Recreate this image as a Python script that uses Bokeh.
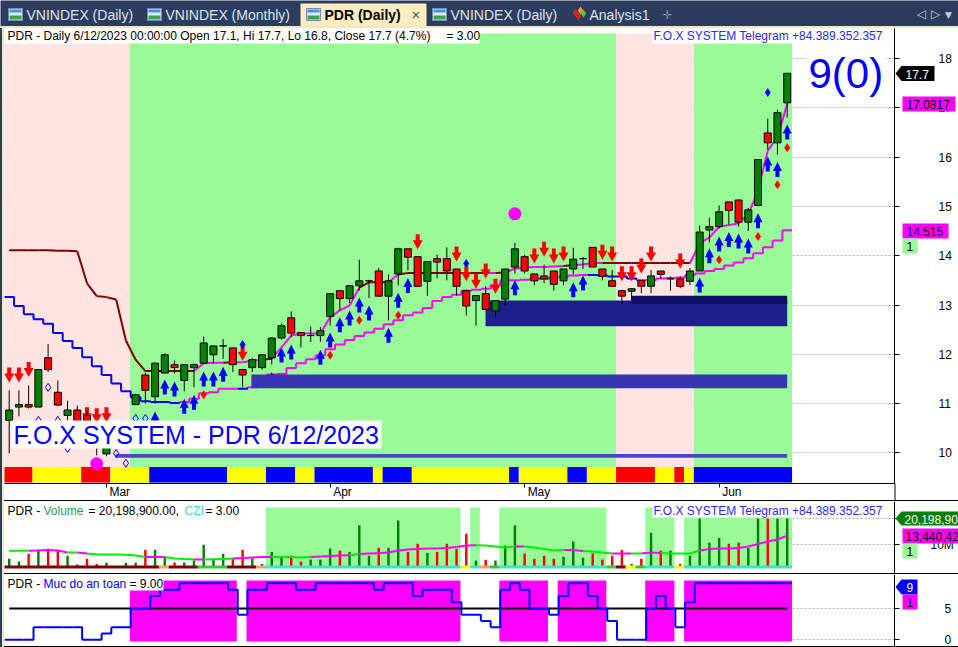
from bokeh.plotting import figure
from bokeh.layouts import column, row
from bokeh.models import (Label, PolyAnnotation, FixedTicker, Range1d, Spacer)
from bokeh.core.properties import value
from bokeh.embed import file_html
from bokeh.resources import INLINE

# ---------- data ----------
opens = [10.66,10.93,10.98,10.93,11.93,11.23,10.76,10.87,10.76,10.35,9.98,10.15,10.35,10.98,11.58,11.14,11.62,11.79,11.47,11.73,11.82,11.99,12.17,12.13,11.69,11.73,11.73,11.93,12.33,12.74,12.44,12.38,12.38,12.77,13.29,13.13,13.39,13.49,13.69,13.18,13.63,14.14,13.98,13.48,13.94,13.94,13.73,13.29,13.09,13.23,12.88,13.12,13.77,13.98,13.63,13.59,13.69,13.49,13.73,13.94,14.17,13.73,13.49,13.29,13.28,13.50,13.38,13.69,13.53,13.53,13.48,13.69,14.52,14.59,15.09,15.13,14.68,15.02,16.49,16.29,17.1]
closes = [10.87,10.98,10.93,11.69,11.69,10.97,10.87,10.56,10.35,10.20,10.12,10.40,10.60,11.18,11.27,11.82,11.99,11.73,11.79,11.79,12.23,12.17,12.17,11.79,11.58,11.89,11.99,12.33,12.58,12.43,12.38,12.38,12.48,13.23,13.13,13.39,13.49,13.49,13.18,13.49,14.14,13.97,13.38,13.88,13.87,13.69,13.38,12.98,13.19,12.91,13.09,13.73,14.14,13.69,13.49,13.53,13.42,13.73,13.93,13.94,13.77,13.58,13.38,13.18,13.33,13.38,13.59,13.62,13.53,13.38,13.69,14.48,14.59,14.89,14.92,14.68,14.93,15.95,16.29,16.90,17.7]
highs = [11.27,11.27,11.37,11.69,12.21,11.47,11.06,10.96,10.85,10.45,10.30,10.50,10.65,11.20,11.63,11.84,12.02,11.87,11.79,11.81,12.36,12.17,12.31,12.13,11.69,11.92,11.99,12.35,12.62,12.87,12.44,12.56,12.55,13.23,13.29,13.41,13.92,13.51,13.75,13.62,14.16,14.14,13.98,13.88,14.02,14.17,13.73,13.31,13.19,13.38,13.09,13.73,14.26,14.02,13.63,13.82,13.69,13.73,14.16,13.97,14.17,13.73,13.71,13.31,13.33,13.50,13.71,13.69,13.58,13.58,13.75,14.61,14.77,15.02,15.09,15.13,14.97,15.95,16.78,16.96,17.7]
lows = [9.99,10.74,10.90,10.93,11.64,10.95,10.66,10.49,10.30,9.95,9.93,10.10,10.30,10.97,11.00,11.00,11.61,11.61,11.25,11.33,11.81,11.81,11.91,11.64,11.33,11.64,11.69,11.79,12.30,12.35,12.14,12.25,12.25,12.58,12.89,13.04,13.29,13.14,13.17,12.69,13.40,13.70,13.38,13.19,13.54,13.50,13.19,12.79,12.58,12.91,12.75,12.99,13.64,13.64,13.40,13.44,13.29,13.40,13.62,13.73,13.77,13.50,13.38,13.04,13.09,13.24,13.24,13.53,13.29,13.34,13.40,13.69,14.27,14.55,14.63,14.59,14.50,15.00,16.15,16.05,16.8]
upper_line = [14.11,14.11,14.11,14.11,14.11,14.10,14.10,14.09,13.44,13.18,13.16,13.11,12.28,11.89,11.66,11.66,11.66,11.66,11.66,11.66,11.82,11.83,11.83,11.84,11.84,11.87,11.89,11.91,12.14,12.38,12.42,12.42,12.42,12.75,12.89,12.99,13.35,13.46,13.46,13.46,13.62,13.65,13.65,13.65,13.65,13.65,13.65,13.65,13.65,13.65,13.65,13.66,13.74,13.76,13.77,13.77,13.78,13.79,13.81,13.82,13.85,13.85,13.85,13.85,13.85,13.85,13.85,13.85,13.85,13.85,13.85,14.25,14.37,14.59,14.62,14.66,14.84,15.32,16.13,16.40,17.08]
lower_line = [13.16,12.98,12.81,12.71,12.62,12.43,12.27,12.13,11.94,11.76,11.58,11.41,11.25,11.13,11.05,11.03,11.03,11.01,11.03,11.10,11.21,11.23,11.30,11.30,11.30,11.33,11.47,11.59,11.60,11.72,11.82,11.90,11.98,12.10,12.20,12.29,12.37,12.44,12.52,12.61,12.69,12.79,12.85,12.94,13.08,13.16,13.21,13.29,13.31,13.33,13.40,13.50,13.50,13.51,13.53,13.54,13.56,13.58,13.60,13.61,13.61,13.60,13.58,13.58,13.54,13.50,13.50,13.54,13.55,13.56,13.61,13.64,13.69,13.73,13.80,13.86,13.95,14.05,14.17,14.31,14.515]
up_arrow_bars = [15,16,17,18,19,20,21,22,27,28,29,32,33,34,35,36,37,39,40,41,52,58,59,71,72,73,74,75,76,77,78,79,80]
up_arrow_tips = [10.84,11.49,11.45,11.10,11.18,11.65,11.65,11.75,11.64,12.14,12.20,12.09,12.44,12.75,12.89,13.15,12.99,12.54,13.25,13.55,13.50,13.46,13.60,13.56,14.15,14.39,14.48,14.45,14.35,14.86,16.01,15.90,16.66]
down_arrow_bars = [0,1,2,8,9,10,24,42,46,47,48,49,50,54,55,56,57,61,62,63,64,65,66,69]
down_arrow_tips = [11.43,11.43,11.54,10.62,10.60,10.62,11.87,14.13,13.88,13.48,13.33,13.54,13.23,13.84,13.98,13.84,13.88,13.92,13.88,13.48,13.48,13.64,13.88,13.74]
red_dot_bars = [20,33,36,40,73,77,79,80]
red_dot_vals = [11.18,11.98,12.69,12.79,13.92,14.39,15.44,16.19]
blue_dot_bars = [24,47,78]
blue_dot_vals = [12.20,13.84,17.31]
hollow_bars = [3,4,5,6,11,12,13,14]
hollow_vals = [10.66,11.33,10.66,10.09,9.99,9.79,10.70,10.70]
circle_bars = [9,52]
circle_vals = [9.78,14.85]
box_left = [10.94,24.9,48.98,64.0]
box_right = [80,80,80,80]
box_top = [9.98,11.59,13.09,13.19]
box_bottom = [9.90,11.31,12.57,13.02]
box_colors = ["#4a46c4","#3835b0","#1f1f8c","#0d0d66"]
month_bars = [10,33,53,73]
month_names = ["Mar","Apr","May","Jun"]
price_ticks = [10,11,12,13,14,15,16,17,18]

volumes = [4.4,3.3,6.4,7.9,8.3,7.9,5.6,2.2,4.4,2.4,2.8,1.4,2.8,2.8,7.9,7.9,5.0,2.9,2.9,3.7,9.9,4.4,6.4,4.4,7.9,4.6,2.4,7.1,5.4,5.6,3.3,4.1,4.1,8.4,7.6,7.1,17.5,5.6,8.7,8.7,19.4,7.1,10.3,6.7,7.1,10.3,8.3,14.2,3.7,4.0,3.7,9.6,17.5,6.4,4.4,5.6,4.4,5.2,11.2,4.8,6.5,4.1,5.6,7.9,2.4,4.4,14.6,7.6,7.6,2.4,5.6,20.2,10.7,12.6,10.3,10.7,8.7,20.2,20.2,20.2,20.2]
vol_avg = [7.53,7.53,7.53,7.65,7.84,7.65,6.86,6.86,6.47,6.08,6.08,6.08,6.0,5.69,5.10,5.10,5.10,4.51,4.31,4.12,4.12,4.24,4.31,4.51,4.71,4.90,5.10,5.10,5.10,5.10,4.90,5.10,5.29,5.49,5.69,5.80,6.27,6.47,6.59,6.86,7.65,8.04,8.24,8.43,8.43,8.63,9.02,9.61,9.73,9.61,9.22,8.82,9.22,9.22,8.82,8.24,7.65,7.84,7.84,7.45,7.25,6.86,6.47,6.47,6.47,6.47,6.86,6.67,6.47,6.47,6.47,7.65,8.24,8.43,8.43,8.63,9.22,10.2,11.2,11.96,13.44]
safety = [0,0,0,2,2,2,2,2,0,0,1,2,2,5,5,7,8,8,9,9,9,9,9,8,4,8,8,9,9,9,8,8,9,9,9,9,9,9,8,9,9,9,7,8,8,8,6,4,4,3,2,8,9,8,5,5,4,7,9,9,7,5,3,0,0,0,5,7,5,2,6,9,9,9,9,9,9,9,9,9,9]
safety_mid = 5

# value tags in the right-hand scale strip
arrow_tag_text = ["17.7", "20,198,900", "9"]
box_tag_text = ["17.0817", "14.515", "1", "13,440,420", "1", "1"]

def runs(*pairs):
    out = []
    for c, n in pairs:
        out += [c] * n
    return out

RED, YEL, BLU = "#ff0000", "#ffff00", "#0000ff"
PINK, LGREEN = "#ffe4e1", "#98fb98"
DRED, MAG = "#800000", "#ff00ff"
GRN, LIME = "#008000", "#00ee00"
TURQ, ORG, MID = "#40e0d0", "#f4a460", "#32cd32"

zone_colors = runs((PINK,13),(LGREEN,50),(PINK,8),(LGREEN,10))
ribbon_colors = runs((RED,3),(YEL,5),(RED,3),(YEL,4),(BLU,8),(YEL,4),(BLU,3),(YEL,2),(BLU,6),(YEL,1),(BLU,3),(YEL,10),(BLU,1),(YEL,5),(BLU,2),(YEL,3),(RED,4),(YEL,2),(RED,1),(YEL,1),(BLU,10))
upper_colors = runs((DRED,19),(MAG,3),(DRED,1),(MAG,3),(DRED,1),(MAG,9),(DRED,3),(MAG,1),(DRED,9),(MAG,1),(DRED,1),(MAG,6),(DRED,1),(MAG,3),(DRED,9),(MAG,11))
lower_colors = runs((BLU,18),(MAG,6),(BLU,1),(MAG,30),(BLU,1),(MAG,4),(BLU,5),(MAG,16))
avg_colors = runs((LIME,2),(MAG,4),(LIME,1),(MAG,1),(LIME,6),(MAG,2),(LIME,3),(MAG,1),(LIME,3),(MAG,4),(LIME,4),(MAG,4),(LIME,1),(MAG,12),(LIME,4),(MAG,1),(LIME,4),(MAG,2),(LIME,3),(MAG,2),(LIME,1),(MAG,2),(LIME,4),(MAG,10))
vol_zone = runs(("w",27),(LGREEN,20),("w",1),(LGREEN,1),("w",2),(LGREEN,11),("w",4),(LGREEN,3),("w",1),(LGREEN,11))
vol_ribbon = runs((DRED,16),(ORG,1),(DRED,3),(MID,3),(DRED,3),(ORG,1),(TURQ,20),(YEL,1),(TURQ,1),(ORG,1),(MID,1),(TURQ,11),(MID,1),(DRED,1),(YEL,1),(MID,1),(TURQ,3),(YEL,1),(TURQ,11))
safety_zone = runs(("w",13),(MAG,11),("w",1),(MAG,22),("w",4),(MAG,5),("w",1),(MAG,5),("w",4),(MAG,3),("w",1),(MAG,11))

n = len(closes)
bars = list(range(n))
for name, arr in dict(o=opens,h=highs,l=lows,u=upper_line,lo=lower_line,v=volumes,a=vol_avg,s=safety,z=zone_colors,r=ribbon_colors,vz=vol_zone,vr=vol_ribbon,sz=safety_zone,lc=lower_colors).items():
    assert len(arr) == n, (name, len(arr))

# ---------- pixel helpers for chrome / labels ----------
FONT = "Liberation Sans"
def X(px): return (px - 8.7) / 9.725
def BX(i): return 8.7 + 9.725 * i
def P(py): return 18 - (py - 58) / 49.3
def V(py): return (569.5 - py) / 2.55
def S(py): return (639.3 - py) / 6.27

WIDTH = 954
FRAME_L, FRAME_R = 4, 894

def make(height, ytop, ybot, conv, ticks, standoff, xaxis=False, bottom=0):
    p = figure(width=WIDTH, height=height, output_backend="svg", toolbar_location=None,
               x_range=Range1d(X(FRAME_L), X(FRAME_R)), y_range=Range1d(conv(ybot), conv(ytop)),
               y_axis_location="right", x_axis_location="below" if xaxis else None,
               min_border_left=0, min_border_right=958 - FRAME_R, min_border_top=0, min_border_bottom=bottom,
               background_fill_color="white", border_fill_color="white", outline_line_color=None)
    ax = p.yaxis[0]
    ax.ticker = FixedTicker(ticks=ticks)
    ax.major_tick_in = 0
    ax.major_tick_out = 5
    ax.minor_tick_line_color = None
    ax.axis_line_color = "black"
    ax.major_tick_line_color = "black"
    ax.major_label_text_font = FONT
    ax.major_label_text_font_size = "12px"
    ax.major_label_text_color = "black"
    ax.major_label_standoff = standoff
    p.ygrid.grid_line_color = "#b0b0b0"
    p.ygrid.grid_line_dash = "2 2"
    p.xgrid.visible = False
    return p

def zone_quads(p, colors, top, bottom):
    # consecutive bars of one colour become one block, so no seams show between bars
    start = 0
    lefts, rights, fills = [], [], []
    for i in range(1, n + 1):
        if i == n or colors[i] != colors[start]:
            if colors[start] != "w":
                lefts.append(start - 0.6); rights.append(i - (0.5 if i == n else 0.6)); fills.append(colors[start])
            start = i
    p.quad(left=lefts, right=rights, top=top, bottom=bottom, fill_color=fills, line_color=None)

def box(p, conv, x0, y0, x1, y1, color):
    p.add_layout(PolyAnnotation(xs=[X(x0), X(x1), X(x1), X(x0)], ys=[conv(y0), conv(y0), conv(y1), conv(y1)],
                                fill_color=color, fill_alpha=1, line_color=None))

def label(p, conv, px, py, text, color="black", size=12, weight="normal"):
    p.add_layout(Label(x=X(px), y=conv(py), text=text, text_color=color, text_font=FONT,
                       text_font_size=f"{size}px", text_baseline="middle", text_align="left", text_font_style=weight))

def steps(vals):
    xs, ys = [], []
    for i, v in enumerate(vals):
        nxt = vals[i + 1] if i + 1 < len(vals) else v
        xs.append([i - 0.5, i + 0.5, i + 0.5])
        ys.append([v, v, nxt])
    return xs, ys

def seg(p, vals, colors, w=2):
    p.segment(x0=bars[:-1], y0=vals[:-1], x1=bars[1:], y1=vals[1:], line_color=colors[:n - 1], line_width=w)

# ---------- main price panel ----------
main = make(472, 28, 483, P, price_ticks, 39, xaxis=True, bottom=17)
xa = main.xaxis[0]
xa.ticker = FixedTicker(ticks=month_bars)
xa.major_label_overrides = {b: "" for b in month_bars}
xa.major_label_standoff = 0
xa.major_tick_in = 0
xa.major_tick_out = 4
xa.minor_tick_line_color = None
xa.axis_line_color = "black"

zone_quads(main, zone_colors, P(33), P(483))
zone_quads(main, ribbon_colors, P(466.5), P(482))

seg(main, upper_line, upper_colors)
lx, ly = steps(lower_line)
main.multi_line(xs=lx, ys=ly, line_color=lower_colors, line_width=2)

dxp, dyp = 1 / 9.725, 1 / 49.3
up_shape = [(0,0),(4.5,-9),(2,-9),(2,-15),(-2,-15),(-2,-9),(-4.5,-9)]
down_shape = [(0,0),(5,9),(2,9),(2,15),(-2,15),(-2,9),(-5,9)]
main.patches(xs=[[b + sx * dxp for sx, _ in up_shape] for b in up_arrow_bars],
             ys=[[t + sy * dyp for _, sy in up_shape] for t in up_arrow_tips],
             fill_color="#0000ff", line_color=None)
main.patches(xs=[[b + sx * dxp for sx, _ in down_shape] for b in down_arrow_bars],
             ys=[[t + sy * dyp for _, sy in down_shape] for t in down_arrow_tips],
             fill_color="#ff0000", line_color=None)

main.quad(left=box_left, right=box_right, top=box_top, bottom=box_bottom, fill_color=box_colors, line_color=None)

main.segment(x0=bars, y0=lows, x1=bars, y1=highs, line_color="black", line_width=1)
body_colors = [GRN if c >= o else RED for o, c in zip(opens, closes)]
main.vbar(x=bars, width=0.72, top=[max(a, b) for a, b in zip(opens, closes)],
          bottom=[min(a, b) for a, b in zip(opens, closes)],
          fill_color=body_colors, line_color="black", line_width=1)

main.scatter(x=red_dot_bars, y=red_dot_vals, marker="diamond", size=9, fill_color="#ff0000", line_color=None)
main.scatter(x=blue_dot_bars, y=blue_dot_vals, marker="diamond", size=9, fill_color="#0000ff", line_color=None)
main.scatter(x=hollow_bars, y=hollow_vals, marker="diamond", size=8, fill_color=None, line_color="#0000ff", line_width=1)
main.scatter(x=circle_bars, y=circle_vals, marker="circle", size=13, fill_color=MAG, line_color=None)

box(main, P, 5, 28.5, 479, 43, "white")
label(main, P, 7, 35.5, "PDR - Daily 6/12/2023 00:00:00 Open 17.1, Hi 17.7, Lo 16.8, Close 17.7 (4.7%)")
label(main, P, 446, 35.5, "= 3.00")
box(main, P, 652, 28.5, 885, 43, "white")
label(main, P, 653, 35.5, "F.O.X SYSTEM Telegram +84.389.352.357", "#2a2aff")
box(main, P, 11, 420, 381, 448, "white")
label(main, P, 13, 434, "F.O.X SYSTEM - PDR 6/12/2023", "#0000ff", 25)
box(main, P, 806, 50, 885, 96, "white")
label(main, P, 808, 73, "9(0)", "#0000ff", 42)

# ---------- volume panel ----------
vol = make(72, 501, 573, V, [10, 20.1989], 31)
vol.yaxis[0].major_label_overrides = {10: "10M", 20.1989: ""}
vol.quad(left=bars[0] - 0.5, right=bars[-1] + 0.5, top=V(501), bottom=V(573), fill_color="white", line_color=None)
zone_quads(vol, vol_zone, V(507), V(567))
vol.vbar(x=bars, width=0.25, top=volumes, bottom=V(567), fill_color=body_colors, line_color=None)
zone_quads(vol, vol_ribbon, V(565), V(568))
seg(vol, vol_avg, avg_colors)

label(vol, V, 7, 510, "PDR -")
label(vol, V, 43, 510, "Volume", "#2e9b57")
label(vol, V, 88, 510, "= 20,198,900.00,")
label(vol, V, 184, 510, "CZI", TURQ)
label(vol, V, 205, 510, "= 3.00")
box(vol, V, 652, 504, 885, 517, "white")
label(vol, V, 653, 510, "F.O.X SYSTEM Telegram +84.389.352.357", "#2a2aff")

# ---------- safety panel ----------
saf = make(72, 574, 646, S, [0, 5], 45)
saf.quad(left=bars[0] - 0.5, right=bars[-1] + 0.5, top=S(574), bottom=S(646), fill_color="white", line_color=None)
zone_quads(saf, safety_zone, S(580), S(641))
saf.segment(x0=bars[0], y0=safety_mid, x1=bars[-1], y1=safety_mid, line_color="black", line_width=2)
sx, sy = steps(safety)
saf.multi_line(xs=sx, ys=sy, line_color="#0000ff", line_width=2)
box(saf, S, 5, 576, 163, 590, "white")
label(saf, S, 7, 583, "PDR -")
label(saf, S, 43, 583, "Muc do an toan", "#0000ff")
label(saf, S, 129, 583, "= 9.00")

# ---------- tab bar ----------
tab_names = ["VNINDEX (Daily)", "VNINDEX (Monthly)", "VNINDEX (Daily)", "Analysis1"]
tab_x = [26, 165, 450, 589]
icon_x = [8, 147, 306, 432]
BAR = "#2c3c5e"
tabs = figure(width=958, height=26, output_backend="svg", toolbar_location=None,
              x_range=Range1d(0, 958), y_range=Range1d(26, 0), x_axis_location=None, y_axis_location=None,
              min_border=0, background_fill_color=BAR, border_fill_color=BAR, outline_line_color=None)
tabs.grid.visible = False
tabs.quad(left=300, right=426, top=3, bottom=26, fill_color="#fdecc0", line_color=None)
tabs.text(x=tab_x, y=14.5, text=tab_names, text_color="#dde3ee", text_font=value(FONT),
          text_font_size="14px", text_baseline="middle")
tabs.text(x=[324], y=14.5, text=["PDR (Daily)"], text_color="black", text_font=value(FONT),
          text_font_size="14px", text_font_style="bold", text_baseline="middle")
tabs.text(x=[411], y=13.5, text=["\u00d7"], text_color="#555555", text_font=value(FONT),
          text_font_size="15px", text_baseline="middle")
tabs.quad(left=icon_x, right=[v + 14 for v in icon_x], top=8, bottom=20, fill_color="#dfeaf7", line_color="#6f8fb8")
tabs.quad(left=[v + 1 for v in icon_x], right=[v + 13 for v in icon_x], top=15, bottom=19, fill_color="#3fa14a", line_color=None)
tabs.quad(left=[v + 1 for v in icon_x], right=[v + 13 for v in icon_x], top=9, bottom=12, fill_color="#4a8fdc", line_color=None)
tabs.scatter(x=[575, 580, 578, 583], y=[12, 10, 16, 13], marker="diamond", size=8,
             fill_color=["#e02020", "#f0a020", "#e02020", "#60c030"], line_color=None)
tabs.text(x=[667], y=14, text=["\u271b"], text_color="#8591a8", text_font=value("DejaVu Sans"),
          text_font_size="12px", text_align="center", text_baseline="middle")
tabs.text(x=[921, 935], y=13, text=["\u25c1", "\u25b7"], text_color="#c5ccd9", text_font=value("DejaVu Sans"),
          text_font_size="12px", text_align="center", text_baseline="middle")
tabs.text(x=[948], y=14, text=["\u25bc"], text_color="#c5ccd9", text_font=value("DejaVu Sans"),
          text_font_size="9px", text_align="center", text_baseline="middle")

# ---------- transparent page-sized layer: month names, scale-strip value tags ----------
top = figure(width=958, height=647, output_backend="svg", toolbar_location=None,
             x_range=Range1d(0, 958), y_range=Range1d(647, 0), x_axis_location=None, y_axis_location=None,
             min_border=0, background_fill_color=None, border_fill_color=None, outline_line_color=None,
             styles={"position": "absolute", "left": "0px", "top": "0px", "z-index": "5", "pointer-events": "none"})
top.grid.visible = False

def ttext(xs, ys, texts, color="black"):
    top.text(x=xs, y=ys, text=texts, text_color=color, text_font=value(FONT), text_font_size="12px",
             text_baseline="middle")

ttext([BX(b) + 3 for b in month_bars], [491] * 4, month_names)
# scale line through the date strip
top.segment(x0=[894.5], y0=[483], x1=[894.5], y1=[500], line_color="black", line_width=1)

arrow_x1 = [934, 958, 917]
arrow_cy = [73, 518, 586.5]
arrow_hw = [7.5, 7, 7.5]
arrow_colors = ["black", GRN, BLU]
top.patches(xs=[[895, 901, x1, x1, 901] for x1 in arrow_x1],
            ys=[[c, c - h, c - h, c + h, c + h] for c, h in zip(arrow_cy, arrow_hw)],
            fill_color=arrow_colors, line_color=None)
ttext([905, 904, 906], [73.5, 518.5, 587], arrow_tag_text, "white")

tag_left = [902] * 6
tag_right = [955, 948, 917, 958, 917, 917]
tag_top = [96, 223, 238, 528, 543, 594]
tag_colors = [MAG, MAG, LGREEN, MAG, LGREEN, MAG]
top.quad(left=tag_left, right=tag_right, top=tag_top, bottom=[t + 15 for t in tag_top],
         fill_color=tag_colors, line_color=None)
ttext([906, 906, 906, 905, 906, 906], [t + 7.5 for t in tag_top], box_tag_text)

# ---------- layout ----------
def bar(w, h, color):
    return Spacer(width=w, height=h, styles={"background-color": color})

stack = column(main, bar(WIDTH, 1, "black"), vol, bar(WIDTH, 1, "black"), saf, bar(WIDTH, 1, "black"), spacing=0)
body = row(bar(2, 619, BAR), bar(2, 619, "#f5e6c0"), stack, spacing=0)
root = column(tabs, bar(958, 2, "#f5e6c0"), body, top, spacing=0)

open("out.html", "w").write(file_html(root, INLINE))
